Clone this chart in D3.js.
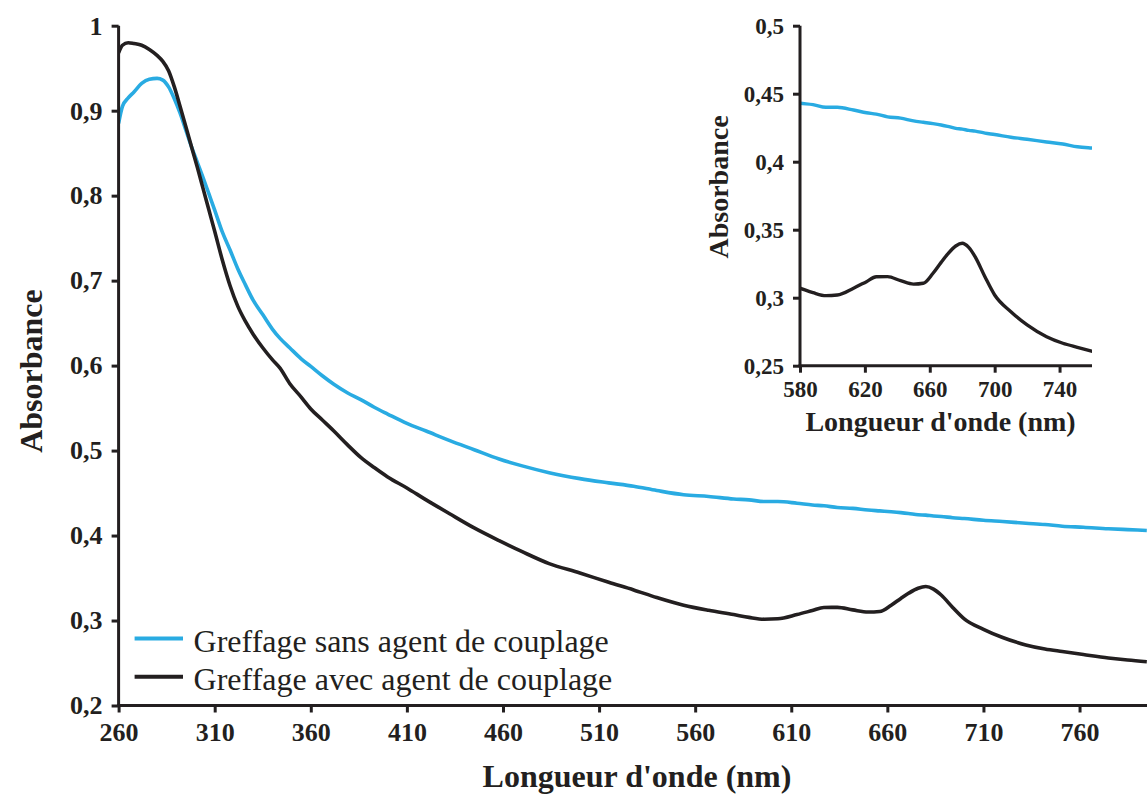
<!DOCTYPE html>
<html>
<head>
<meta charset="utf-8">
<script src="https://cdn.jsdelivr.net/npm/d3@7"></script>
<style>
  html, body { margin: 0; padding: 0; background: #fff; }
  svg { display: block; }
</style>
</head>
<body>
<svg id="chart" width="1147" height="794"></svg>
<script>
// ---- data ----
const wavelengths = [260,262,265,268,272,276,280,283,286,289,292,295,298,301,304,307,310,314,318,322,326,330,335,340,344,349,355,360,366,372,379,386,393,400,410,420,432,445,458,470,484,500,515,528,540,554,567,580,588,596,603,613,621,627,634,642,650,656,662,667,671,676,680,684,688,694,700,710,720,732,742,751,762,775,785,795];
const sansAgent = [0.885,0.905,0.915,0.922,0.932,0.937,0.938,0.936,0.928,0.914,0.897,0.877,0.857,0.839,0.821,0.802,0.783,0.757,0.736,0.714,0.695,0.677,0.660,0.643,0.632,0.621,0.608,0.599,0.588,0.578,0.568,0.560,0.551,0.543,0.532,0.523,0.512,0.501,0.490,0.482,0.474,0.467,0.462,0.458,0.453,0.448,0.446,0.443,0.442,0.440,0.440,0.438,0.436,0.435,0.433,0.432,0.430,0.429,0.428,0.427,0.426,0.4245,0.424,0.423,0.4225,0.421,0.420,0.418,0.4165,0.4145,0.413,0.411,0.4098,0.408,0.407,0.406];
const avecAgent = [0.968,0.977,0.980,0.979,0.977,0.972,0.965,0.958,0.947,0.928,0.905,0.881,0.857,0.833,0.808,0.783,0.758,0.724,0.694,0.670,0.652,0.637,0.621,0.607,0.597,0.579,0.563,0.549,0.536,0.523,0.507,0.492,0.480,0.469,0.456,0.442,0.426,0.409,0.394,0.381,0.367,0.356,0.345,0.336,0.327,0.318,0.312,0.307,0.3037,0.3015,0.302,0.307,0.3118,0.3154,0.3155,0.3125,0.310,0.3106,0.318,0.326,0.332,0.338,0.340,0.337,0.330,0.3154,0.302,0.2897,0.280,0.2713,0.2665,0.2635,0.2600,0.256,0.2535,0.2515];
const seriesNames = ["Greffage sans agent de couplage", "Greffage avec agent de couplage"];
const seriesColors = ["#29abe2", "#231f20"];
const mainXTicks = [260,310,360,410,460,510,560,610,660,710,760];
const mainYTicks = [0.2,0.3,0.4,0.5,0.6,0.7,0.8,0.9,1];
const insetXTicks = [580,620,660,700,740];
const insetYTicks = [0.25,0.3,0.35,0.4,0.45,0.5];
const xTitle = "Longueur d'onde (nm)";
const yTitle = "Absorbance";

const series = [sansAgent, avecAgent].map((vals, i) => ({
  name: seriesNames[i], color: seriesColors[i],
  points: wavelengths.map((w, j) => ({x: w, y: vals[j]}))
}));

const FONT = '"Liberation Serif", "Times New Roman", Tinos, serif';
const svg = d3.select("#chart").style("font-family", FONT);
const ink = "#231f20";
const fmt = v => d3.format("~g")(v).replace(".", ",");

function drawPanel(opt) {
  const x = d3.scaleLinear().domain(opt.xDomain).range([opt.x0, opt.x1]);
  const y = d3.scaleLinear().domain(opt.yDomain).range([opt.y1, opt.y0]);
  const g = svg.append("g");
  const clipId = "clip-" + opt.id;
  svg.append("defs").append("clipPath").attr("id", clipId)
    .append("rect").attr("x", opt.x0).attr("y", opt.y0 - 10)
    .attr("width", opt.x1 - opt.x0).attr("height", opt.y1 - opt.y0 + 10);

  const line = d3.line().x(d => x(d.x)).y(d => y(d.y)).curve(d3.curveMonotoneX);
  g.append("g").attr("clip-path", `url(#${clipId})`)
    .selectAll("path").data(series).join("path")
    .attr("d", d => line(d.points))
    .attr("fill", "none").attr("stroke", d => d.color)
    .attr("stroke-width", opt.lw).attr("stroke-linejoin", "round");

  const xAxis = d3.axisBottom(x).tickValues(opt.xTicks).tickSizeInner(opt.tick).tickSizeOuter(0).tickPadding(opt.xPad).tickFormat(d3.format("d"));
  const gx = g.append("g").attr("transform", `translate(0,${opt.y1})`).call(xAxis);
  const yAxis = d3.axisLeft(y).tickValues(opt.yTicks).tickSizeInner(opt.tick).tickSizeOuter(0).tickPadding(opt.yPad).tickFormat(fmt);
  const gy = g.append("g").attr("transform", `translate(${opt.x0},0)`).call(yAxis);
  [gx, gy].forEach(a => {
    a.attr("font-family", null).attr("font-size", null);
    a.select(".domain").attr("stroke", ink).attr("stroke-width", opt.aw);
    a.selectAll(".tick line").attr("stroke", ink).attr("stroke-width", opt.aw);
    a.selectAll(".tick text").attr("fill", ink)
      .style("font-family", FONT)
      .style("font-weight", "bold").style("font-size", opt.fs + "px");
  });
  gx.select(".domain").attr("d", `M${opt.x0 - opt.aw/2},0H${opt.x1}`);
  gy.select(".domain").attr("d", `M0,${opt.y0}V${opt.y1 + opt.aw/2}`);

  g.append("text").attr("x", opt.xtx).attr("y", opt.xty).attr("text-anchor", "middle")
    .attr("fill", ink).style("font-family", FONT)
    .style("font-weight", "bold").style("font-size", opt.tfs + "px").text(xTitle);
  g.append("text").attr("transform", `translate(${opt.ytx},${opt.yty}) rotate(-90)`)
    .attr("text-anchor", "middle").attr("fill", ink).style("font-family", FONT)
    .style("font-weight", "bold").style("font-size", opt.tfs + "px").text(yTitle);
  return {x, y};
}

// main chart
drawPanel({id: "main", xDomain: [260, 795.1], yDomain: [0.2, 1],
  xTicks: mainXTicks, yTicks: mainYTicks,
  x0: 118.6, x1: 1147, y0: 25.7, y1: 705.5, lw: 3.6, aw: 3, tick: 7,
  xPad: 10, yPad: 9, fs: 26, tfs: 32,
  xtx: 637, xty: 787, ytx: 42, yty: 371});

// inset
drawPanel({id: "inset", xDomain: [580, 760], yDomain: [0.25, 0.5],
  xTicks: insetXTicks, yTicks: insetYTicks,
  x0: 800, x1: 1092, y0: 25.7, y1: 365.7, lw: 3.4, aw: 3, tick: 7,
  xPad: 8, yPad: 9, fs: 23, tfs: 28,
  xtx: 940.5, xty: 431, ytx: 728, yty: 187});

// legend
const legend = svg.append("g");
series.forEach((s, i) => {
  const cy = 638.6 + i * 38.2;
  legend.append("line").attr("x1", 134.6).attr("x2", 183).attr("y1", cy).attr("y2", cy)
    .attr("stroke", s.color).attr("stroke-width", 4);
  legend.append("text").attr("x", 193.6).attr("y", cy + 13).attr("fill", ink)
    .style("font-family", FONT).style("font-size", "32px").text(s.name);
});
</script>
</body>
</html>
